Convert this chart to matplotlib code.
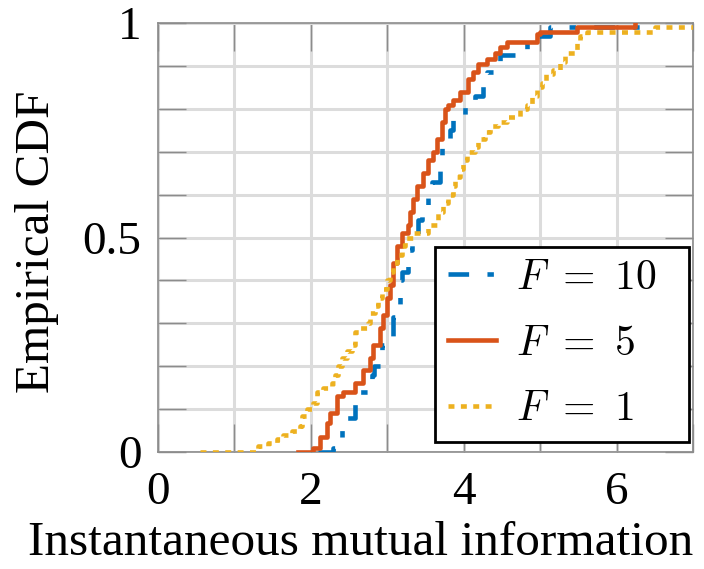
import matplotlib
matplotlib.use("Agg")
from matplotlib import pyplot as plt
from matplotlib.patches import Rectangle
from matplotlib.ticker import MultipleLocator, FixedLocator

plt.rcParams['font.family'] = ['Liberation Serif', 'DejaVu Serif']
plt.rcParams['mathtext.fontset'] = 'cm'

# step points of the empirical CDFs (x = mutual information, y = CDF level)
x_f10 = [2.09, 2.29, 2.41, 2.45, 2.58, 2.64, 2.80, 2.83, 2.93, 2.97, 3.07, 3.13,
         3.17, 3.19, 3.27, 3.32, 3.40, 3.45, 3.53, 3.58, 3.69, 3.72, 3.82, 3.86,
         4.02, 4.15, 4.25, 4.30, 4.47, 4.83, 4.87, 5.13, 6.44]
y_f10 = [0.0, 0.01, 0.06, 0.08, 0.13, 0.14, 0.18, 0.20, 0.25, 0.27, 0.315, 0.34,
         0.40, 0.42, 0.47, 0.49, 0.54, 0.565, 0.61, 0.63, 0.69, 0.71, 0.75, 0.78,
         0.82, 0.83, 0.87, 0.885, 0.925, 0.965, 0.97, 0.99, 1.0]

x_f5 = [1.83, 2.03, 2.12, 2.21, 2.25, 2.34, 2.42, 2.58, 2.68, 2.77, 2.81, 2.90,
        2.94, 3.00, 3.04, 3.07, 3.13, 3.19, 3.27, 3.30, 3.34, 3.39, 3.47, 3.53,
        3.60, 3.65, 3.72, 3.76, 3.79, 3.86, 3.95, 4.06, 4.12, 4.19, 4.30, 4.41,
        4.47, 4.57, 4.96, 5.00, 5.48, 6.24]
y_f5 = [0.0, 0.01, 0.035, 0.068, 0.09, 0.13, 0.14, 0.16, 0.19, 0.22, 0.25, 0.29,
        0.32, 0.36, 0.39, 0.44, 0.48, 0.51, 0.53, 0.56, 0.59, 0.62, 0.65, 0.68,
        0.70, 0.73, 0.77, 0.80, 0.81, 0.82, 0.84, 0.87, 0.885, 0.905, 0.915, 0.93,
        0.945, 0.955, 0.975, 0.98, 0.99, 1.0]

x_f1 = [0.55, 1.31, 1.44, 1.56, 1.64, 1.75, 1.86, 1.88, 1.95, 2.03, 2.08, 2.16,
        2.28, 2.32, 2.36, 2.41, 2.47, 2.54, 2.58, 2.64, 2.75, 2.77, 2.84, 2.88,
        2.93, 3.00, 3.04, 3.07, 3.13, 3.19, 3.23, 3.34, 3.53, 3.66, 3.73, 3.79,
        3.86, 3.89, 3.95, 3.99, 4.04, 4.15, 4.19, 4.28, 4.34, 4.45, 4.57, 4.74,
        4.83, 4.89, 4.96, 5.03, 5.08, 5.17, 5.26, 5.33, 5.48, 5.52, 5.61, 6.50,
        7.35]
y_f1 = [0.0, 0.015, 0.02, 0.03, 0.04, 0.05, 0.06, 0.085, 0.10, 0.115, 0.14, 0.15,
        0.16, 0.18, 0.20, 0.22, 0.235, 0.25, 0.28, 0.29, 0.30, 0.325, 0.34, 0.36,
        0.38, 0.40, 0.42, 0.44, 0.46, 0.48, 0.50, 0.51, 0.53, 0.56, 0.58, 0.60,
        0.62, 0.64, 0.66, 0.68, 0.70, 0.71, 0.73, 0.745, 0.76, 0.77, 0.78, 0.80,
        0.81, 0.83, 0.85, 0.86, 0.88, 0.89, 0.91, 0.93, 0.955, 0.97, 0.98, 0.99,
        1.0]

labels = [r'$F\ =\ 10$', r'$F\ =\ 5$', r'$F\ =\ 1$']
colors = ['#0072BD', '#D95319', '#EDB120']

fig = plt.figure(figsize=(7.04, 5.69), dpi=100)
ax = fig.add_axes([158 / 704, 1 - 452 / 569, 535 / 704, 429 / 569])

lw = 3.3
ax.plot(x_f10, y_f10, drawstyle='steps-post', color=colors[0], lw=lw,
        dashes=(4.5, 4, 1.4, 4), dash_capstyle='butt', label=labels[0], zorder=3)
ax.plot(x_f5, y_f5, drawstyle='steps-post', color=colors[1], lw=lw,
        label=labels[1], zorder=4)
ax.plot(x_f1, y_f1, drawstyle='steps-post', color=colors[2], lw=lw,
        dashes=(1.3, 1.4), dash_capstyle='butt', label=labels[2], zorder=5)

ax.set_xlim(0, 7)
ax.set_ylim(0, 1)
ax.xaxis.set_major_locator(FixedLocator([0, 2, 4, 6]))
ax.xaxis.set_minor_locator(MultipleLocator(1))
ax.yaxis.set_major_locator(FixedLocator([0, 0.5, 1]))
ax.yaxis.set_minor_locator(MultipleLocator(0.1))
ax.set_xticklabels(['0', '2', '4', '6'])
ax.set_yticklabels(['0', '0.5', '1'])

ax.grid(True, which='both', color='#dcdcdc', lw=2.2, zorder=0)
ax.set_axisbelow(True)
ax.tick_params(which='both', direction='in', top=True, right=True,
               length=20, width=1, color='#8c8c8c', labelsize=34)
ax.tick_params(axis='x', pad=14)
ax.tick_params(axis='y', pad=12)
for s in ax.spines.values():
    s.set_color('#8c8c8c')
    s.set_linewidth(1.2)

ax.set_xlabel('Instantaneous mutual information', fontsize=35.5)
ax.set_ylabel('Empirical CDF', fontsize=35.5)
ax.xaxis.set_label_coords(0.378, -0.16)
ax.yaxis.set_label_coords(-0.185, 0.49)

# legend box drawn separately so the entries can sit left-aligned in it
box = Rectangle((0.518, 0.023), 0.475, 0.455, transform=ax.transAxes,
                facecolor='white', edgecolor='black', lw=2, zorder=6)
ax.add_patch(box)
leg = ax.legend(loc='upper left', bbox_to_anchor=(0.518, 0.478), borderaxespad=0,
                fontsize=30, frameon=False, handlelength=1.15,
                handletextpad=0.48, labelspacing=0.65, borderpad=0.3)
leg.set_zorder(7)

fig.savefig('out.png', dpi=100)
